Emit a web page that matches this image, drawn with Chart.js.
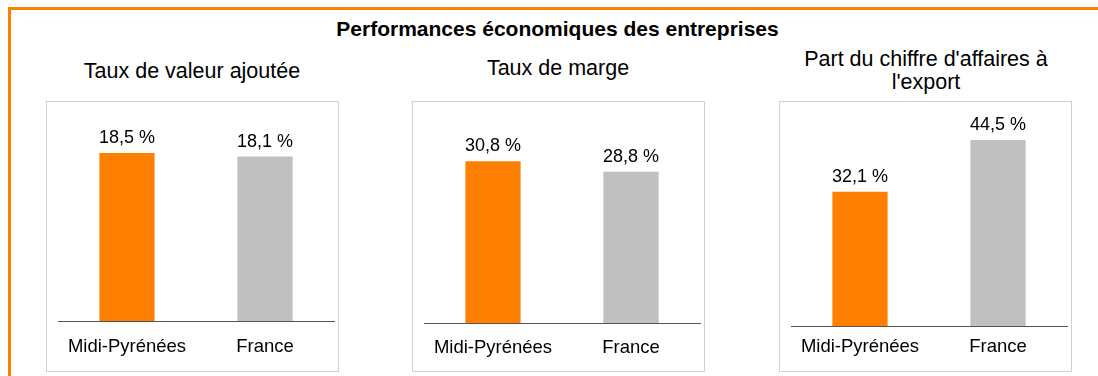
<!DOCTYPE html>
<html lang="fr">
<head>
<meta charset="utf-8">
<script src="https://cdn.jsdelivr.net/npm/chart.js@4.4.1/dist/chart.umd.min.js"></script>
<style>
  html, body { margin: 0; padding: 0; overflow: hidden; background: #fff; }
  body { width: 1098px; height: 376px; position: relative; font-family: "Liberation Sans", Arial, sans-serif; color: #000; }
  #cadre { position: absolute; left: 8px; top: 7px; width: 1200px; height: 420px; border: 3px solid #ff8000; box-sizing: border-box; }
  #titre { position: absolute; left: 0; width: 1115px; top: 18px; text-align: center; font-weight: bold; font-size: 21px; line-height: 21px; }
  .sous-titre { position: absolute; width: 320px; text-align: center; font-size: 21.5px; line-height: 23px; }
  .boite { position: absolute; top: 101px; width: 291px; height: 269px; border: 1px solid #d0d0d0; }
  .boite canvas { display: block; }
</style>
</head>
<body>
<div id="cadre"></div>
<div id="titre">Performances économiques des entreprises</div>

<div class="sous-titre" style="left:32px; top:60px;">Taux de valeur ajoutée</div>
<div class="sous-titre" style="left:398px; top:57px;">Taux de marge</div>
<div class="sous-titre" style="left:766px; top:48px;">Part du chiffre d'affaires à<br>l'export</div>

<div class="boite" style="left:46px;"><canvas id="vaj" width="291" height="269"></canvas></div>
<div class="boite" style="left:412px;"><canvas id="marge" width="291" height="269"></canvas></div>
<div class="boite" style="left:779px;"><canvas id="export" width="291" height="269"></canvas></div>

<script>
const categories = ["Midi-Pyrénées", "France"];
const tauxValeurAjoutee = [18.5, 18.1];
const tauxMarge = [30.8, 28.8];
const partExport = [32.1, 44.5];
const couleurs = ["#ff8000", "#c0c0c0"];

const police = '"Liberation Sans", Arial, sans-serif';

// valeur en % au-dessus de chaque barre
const etiquettes = {
  id: 'etiquettes',
  afterDatasetsDraw(chart) {
    const ctx = chart.ctx;
    const ds = chart.data.datasets[0];
    chart.getDatasetMeta(0).data.forEach((bar, i) => {
      ctx.save();
      ctx.font = '18px ' + police;
      ctx.fillStyle = '#000';
      ctx.textAlign = 'center';
      ctx.textBaseline = 'alphabetic';
      ctx.fillText(ds.data[i].toFixed(1).replace('.', ',') + ' %', bar.x, bar.y - 10);
      ctx.restore();
    });
  }
};

function graphique(id, valeurs, max, haut, hauteurAxe, ecart) {
  const ctx = document.getElementById(id).getContext('2d');
  return new Chart(ctx, {
    type: 'bar',
    data: {
      labels: categories,
      datasets: [{
        data: valeurs,
        backgroundColor: couleurs,
        barPercentage: 0.4,
        categoryPercentage: 1
      }]
    },
    options: {
      responsive: false,
      animation: false,
      layout: { padding: { top: haut, left: 11, right: 4, bottom: 0 } },
      plugins: { legend: { display: false }, tooltip: { enabled: false } },
      scales: {
        x: {
          grid: { display: false, drawTicks: false },
          border: { display: true, color: '#555', width: 1 },
          ticks: { padding: ecart, color: '#000', font: { size: 18.5, family: police } },
          afterFit: s => { s.height = hauteurAxe; }
        },
        y: { display: false, min: 0, max: max }
      }
    },
    plugins: [etiquettes]
  });
}

graphique('vaj', tauxValeurAjoutee, 23, 10, 50, 15);
graphique('marge', tauxMarge, 40, 11, 48, 14);
graphique('export', partExport, 50, 15, 45, 10);
</script>
</body>
</html>
